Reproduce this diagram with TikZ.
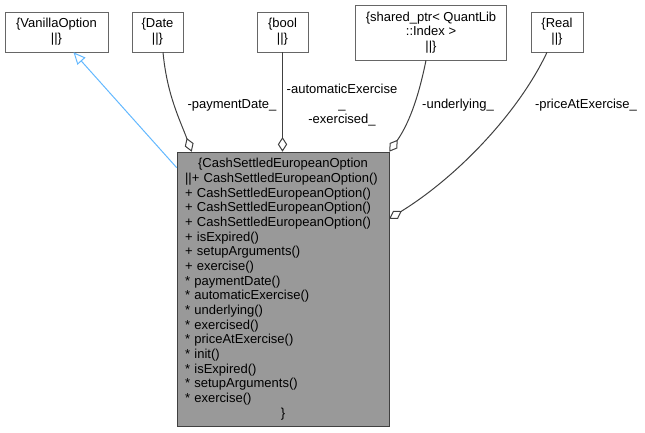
\documentclass[tikz,border=0pt]{standalone}
\usepackage{fontspec}
\setmainfont{Liberation Sans}
\usetikzlibrary{arrows.meta,calc}

\definecolor{boxline}{HTML}{666666}
\definecolor{mainline}{HTML}{404040}
\definecolor{mainfill}{HTML}{999999}
\definecolor{edgecolor}{HTML}{404040}
\definecolor{inhcolor}{HTML}{63B8FF}

\begin{document}
\begin{tikzpicture}[
    x=0.75pt, y=-0.75pt,
    every node/.style={font=\fontsize{9.75}{11}\selectfont},
    typebox/.style={draw=boxline, fill=white, align=center, inner sep=0pt, minimum height=30pt},
    mainbox/.style={draw=mainline, fill=mainfill, align=left, text width=147pt, inner xsep=6pt, inner ysep=0pt, minimum height=205.5pt},
    member/.style={draw=edgecolor, line width=0.75pt, -{Diamond[open, length=11pt, width=7pt]}},
    inherit/.style={draw=inhcolor, line width=0.75pt, -{Triangle[open, length=9pt, width=8pt]}},
    lbl/.style={align=center},
]
\useasboundingbox (0,0) rectangle (645,432);

% Base and member types
\node[typebox, minimum width=77.25pt] (vanilla) at (56.5,32) {\{VanillaOption\\||\}};
\node[typebox, minimum width=38.25pt] (date) at (157.5,32) {\{Date\\||\}};
\node[typebox, minimum width=38.25pt] (bool) at (282.5,32) {\{bool\\||\}};
\node[typebox, minimum width=113.25pt, minimum height=41.25pt] (ptr) at (431,32.5) {\{shared\_ptr< QuantLib\\::Index >\\||\}};
\node[typebox, minimum width=39pt] (real) at (557,32) {\{Real\\||\}};

% The class itself
\node[mainbox] (cls) at (283,289) {\hyphenpenalty=10000\relax
    \makebox[\linewidth]{\{CashSettledEuropeanOption}\\
    ||+ CashSettledEuropeanOption()\\
    + CashSettledEuropeanOption()\\
    + CashSettledEuropeanOption()\\
    + CashSettledEuropeanOption()\\
    + isExpired()\\
    + setupArguments()\\
    + exercise()\\
    {*} paymentDate()\\
    {*} automaticExercise()\\
    {*} underlying()\\
    {*} exercised()\\
    {*} priceAtExercise()\\
    {*} init()\\
    {*} isExpired()\\
    {*} setupArguments()\\
    {*} exercise()\\
    \makebox[\linewidth]{\}}};

% Inheritance
\draw[inherit] ($(cls.north west)+(0,16)$) -- ($(vanilla.south)+(17,0)$);

% Members
\draw[member] ($(date.south)+(5.5,0)$) .. controls (167,95) and (180,120) .. ($(cls.north west)+(15,0)$);
\draw[member] (bool.south) -- (bool.south |- cls.north);
\draw[member] ($(ptr.south)+(-5,0)$) .. controls (418,100) and (408,125) .. (cls.north east);
\draw[member] ($(real.south)+(-10,0)$) .. controls (520,110) and (460,175) .. ($(cls.north east)+(0,67)$);

% Member labels
\node[lbl] (lpay) at (232,105) {-paymentDate\_};
\node[lbl] (lauto) at (342,105) {-automaticExercise\\\_\\-exercised\_};
\node[lbl] (lund) at (458,105) {-underlying\_};
\node[lbl] (lprice) at (586,105) {-priceAtExercise\_};

\end{tikzpicture}
\end{document}
